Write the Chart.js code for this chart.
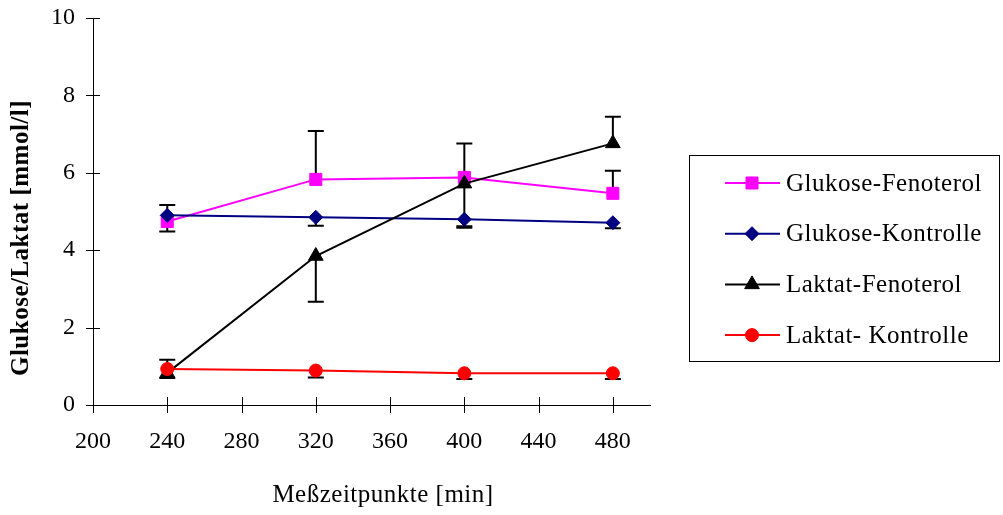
<!DOCTYPE html>
<html>
<head>
<meta charset="utf-8">
<title>Glukose und Laktat</title>
<script src="https://cdn.jsdelivr.net/npm/chart.js@4.4.1/dist/chart.umd.min.js"></script>
<style>
  html, body { margin: 0; padding: 0; background: #fff; }
  #wrap { width: 1003px; height: 515px; position: relative; }
</style>
</head>
<body>
<div id="wrap"><canvas id="chart" width="1003" height="515"></canvas></div>
<script>
// Measurement times [min]
const minutes = [240, 320, 400, 480];

// Mean values [mmol/l]
const glukoseFenoterol = [4.74, 5.83, 5.88, 5.47];
const glukoseKontrolle = [4.90, 4.85, 4.80, 4.71];
const laktatFenoterol  = [0.83, 3.85, 5.72, 6.76];
const laktatKontrolle  = [0.93, 0.89, 0.82, 0.82];

// Standard deviations shown above (plus) or below (minus) the mean
const glukoseFenoterolPlus  = [0.43, 1.25, 0.88, 0.58];
const glukoseKontrolleMinus = [0.42, 0.22, 0.22, 0.14];
const laktatFenoterolPlus   = [0.34, 0, 0, 0.69];
const laktatFenoterolMinus  = [0, 1.18, 1.10, 0];
const laktatKontrolleMinus  = [0.23, 0.18, 0.15, 0.15];

// Series names
const seriesNames = ['Glukose-Fenoterol', 'Glukose-Kontrolle', 'Laktat-Fenoterol', 'Laktat- Kontrolle'];

// Axis ranges and tick steps
const xMin = 200, xMax = 500, xStep = 40;
const yMin = 0, yMax = 10, yStep = 2;

// Axis titles
const xTitle = 'Meßzeitpunkte [min]';
const yTitle = 'Glukose/Laktat [mmol/l]';

const SERIF = "'Liberation Serif', 'Times New Roman', Times, serif";

function toPoints(values) {
  return values.map((v, i) => ({ x: minutes[i], y: v }));
}

function series(label, values, color, style, radius, order, plus, minus) {
  return {
    label,
    data: toPoints(values),
    borderColor: color,
    backgroundColor: color,
    borderWidth: 2,
    pointStyle: style,
    pointRadius: radius,
    pointHoverRadius: radius,
    pointBorderWidth: 1,
    pointBorderColor: color,
    pointBackgroundColor: color,
    tension: 0,
    order,
    errPlus: plus,
    errMinus: minus
  };
}

// Vertical error bars with caps, drawn beneath the markers
const errorBars = {
  id: 'errorBars',
  beforeDatasetsDraw(chart) {
    const { ctx, scales: { x, y } } = chart;
    const cap = 8;
    ctx.save();
    ctx.strokeStyle = '#000';
    ctx.lineWidth = 2;
    chart.data.datasets.forEach(ds => {
      ds.data.forEach((p, j) => {
        const px = x.getPixelForValue(p.x);
        const py = y.getPixelForValue(p.y);
        const ends = [];
        if (ds.errPlus && ds.errPlus[j]) ends.push(y.getPixelForValue(p.y + ds.errPlus[j]));
        if (ds.errMinus && ds.errMinus[j]) ends.push(y.getPixelForValue(p.y - ds.errMinus[j]));
        ends.forEach(ey => {
          ctx.beginPath();
          ctx.moveTo(px, py);
          ctx.lineTo(px, ey);
          ctx.moveTo(px - cap, ey);
          ctx.lineTo(px + cap, ey);
          ctx.stroke();
        });
      });
    });
    ctx.restore();
  }
};

// Tick marks crossing both axis lines, plus the axis titles
const axisDecor = {
  id: 'axisDecor',
  beforeDraw(chart) {
    chart.ctx.letterSpacing = '0px';
  },
  afterDraw(chart) {
    const { ctx, chartArea, scales: { x, y } } = chart;
    ctx.save();
    ctx.strokeStyle = '#000';
    ctx.lineWidth = 1;
    ctx.beginPath();
    x.ticks.forEach(t => {
      const px = Math.round(x.getPixelForValue(t.value)) + 0.5;
      ctx.moveTo(px, chartArea.bottom - 8);
      ctx.lineTo(px, chartArea.bottom + 8);
    });
    y.ticks.forEach(t => {
      const py = Math.round(y.getPixelForValue(t.value)) + 0.5;
      ctx.moveTo(chartArea.left - 7, py);
      ctx.lineTo(chartArea.left + 7, py);
    });
    ctx.stroke();

    ctx.fillStyle = '#000';
    ctx.letterSpacing = '0.5px';
    ctx.textAlign = 'center';
    ctx.textBaseline = 'middle';
    ctx.font = '25px ' + SERIF;
    ctx.fillText(xTitle, 383, 495);

    ctx.translate(22, 238);
    ctx.rotate(-Math.PI / 2);
    ctx.font = 'bold 25px ' + SERIF;
    ctx.fillText(yTitle, 0, 0);
    ctx.restore();
  }
};

// Framed legend with a line and marker sample per series
const boxedLegend = {
  id: 'boxedLegend',
  afterDraw(chart) {
    const { ctx } = chart;
    const box = { left: 689, top: 155, right: 1000, bottom: 362 };
    ctx.save();
    ctx.strokeStyle = '#000';
    ctx.lineWidth = 1;
    ctx.strokeRect(box.left + 0.5, box.top + 0.5, box.right - box.left - 1, box.bottom - box.top - 1);

    const rowY0 = 183, rowGap = 50.7;
    ctx.letterSpacing = '0.5px';
    ctx.font = '25px ' + SERIF;
    ctx.textAlign = 'left';
    ctx.textBaseline = 'middle';
    chart.data.datasets.forEach((ds, i) => {
      const ry = rowY0 + i * rowGap;
      ctx.strokeStyle = ds.borderColor;
      ctx.lineWidth = 2;
      ctx.beginPath();
      ctx.moveTo(725, ry);
      ctx.lineTo(780, ry);
      ctx.stroke();

      ctx.fillStyle = ds.pointBackgroundColor;
      ctx.strokeStyle = ds.pointBorderColor;
      ctx.lineWidth = ds.pointBorderWidth;
      Chart.helpers.drawPoint(ctx, {
        pointStyle: ds.pointStyle,
        rotation: 0,
        radius: ds.pointRadius,
        borderWidth: ds.pointBorderWidth
      }, 752, ry);

      ctx.fillStyle = '#000';
      ctx.fillText(ds.label, 786, ry + 1);
    });
    ctx.restore();
  }
};

const tickFont = { family: SERIF, size: 24 };

new Chart(document.getElementById('chart'), {
  type: 'line',
  data: {
    datasets: [
      series(seriesNames[0], glukoseFenoterol, '#FF00FF', 'rect', 8.5, 4, glukoseFenoterolPlus, null),
      series(seriesNames[1], glukoseKontrolle, '#000080', 'rectRot', 7, 3, null, glukoseKontrolleMinus),
      series(seriesNames[2], laktatFenoterol, '#000000', 'triangle', 8.5, 2, laktatFenoterolPlus, laktatFenoterolMinus),
      series(seriesNames[3], laktatKontrolle, '#FF0000', 'circle', 6.5, 1, null, laktatKontrolleMinus)
    ]
  },
  options: {
    responsive: false,
    animation: false,
    devicePixelRatio: 1,
    layout: { padding: { left: 0, top: 18, right: 353, bottom: 0 } },
    plugins: {
      legend: { display: false },
      tooltip: { enabled: false }
    },
    scales: {
      x: {
        type: 'linear',
        min: xMin,
        max: xMax,
        grid: { display: false },
        border: { display: true, color: '#000', width: 1 },
        ticks: {
          stepSize: xStep,
          includeBounds: false,
          color: '#000',
          font: tickFont,
          padding: 14,
          maxRotation: 0
        },
        afterFit(scale) {
          scale.height = 110;
          scale.paddingLeft = 0;
          scale.paddingRight = 0;
        }
      },
      y: {
        type: 'linear',
        min: yMin,
        max: yMax,
        grid: { display: false },
        border: { display: true, color: '#000', width: 1 },
        ticks: {
          stepSize: yStep,
          color: '#000',
          font: tickFont,
          padding: 10
        },
        afterFit(scale) {
          scale.width = 93;
          scale.paddingTop = 0;
          scale.paddingBottom = 0;
        }
      }
    }
  },
  plugins: [errorBars, axisDecor, boxedLegend]
});
</script>
</body>
</html>
